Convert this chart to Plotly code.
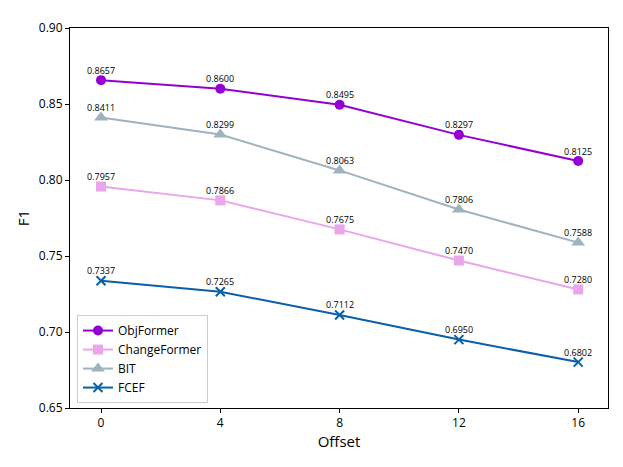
import plotly.graph_objects as go

offsets = [0, 4, 8, 12, 16]
series_names = ["ObjFormer", "ChangeFormer", "BIT", "FCEF"]
objformer = [0.8657, 0.8600, 0.8495, 0.8297, 0.8125]
changeformer = [0.7957, 0.7866, 0.7675, 0.7470, 0.7280]
bit = [0.8411, 0.8299, 0.8063, 0.7806, 0.7588]
fcef = [0.7337, 0.7265, 0.7112, 0.6950, 0.6802]

values = [objformer, changeformer, bit, fcef]
colors = ["#9400D3", "#EBA5EB", "#9DB3BD", "#0B5EA8"]
symbols = ["circle", "square", "triangle-up", "x-thin"]
sizes = [10, 10, 12, 9]

FONT = "Open Sans"
fig = go.Figure()
for name, vals, c, s, sz in zip(series_names, values, colors, symbols, sizes):
    fig.add_trace(go.Scatter(
        x=offsets, y=vals, name=name, mode="lines+markers",
        line=dict(color=c, width=2),
        marker=dict(symbol=s, size=sz, color=c,
                    line=dict(color=c, width=2 if s == "x-thin" else 0)),
    ))
    for xv, yv in zip(offsets, vals):
        fig.add_annotation(x=xv, y=yv, text=f"{yv:.4f}", showarrow=False,
                           yshift=10, font=dict(family=FONT, size=9, color="black"))

fig.update_layout(
    width=623, height=467,
    margin=dict(l=62, r=23, t=11, b=67),
    paper_bgcolor="white", plot_bgcolor="white",
    font=dict(family=FONT, size=12, color="black"),
    showlegend=True,
    legend=dict(x=0.013, y=0.013, xanchor="left", yanchor="bottom",
                bordercolor="#CCCCCC", borderwidth=1, bgcolor="rgba(255,255,255,0.8)",
                font=dict(family=FONT, size=12), tracegroupgap=0, itemwidth=30),
    xaxis=dict(range=[-1.04, 17.0], tickvals=offsets, ticktext=[str(o) for o in offsets],
               showgrid=False, zeroline=False, showline=True, linecolor="black", linewidth=1,
               mirror=True, ticks="outside", ticklen=4, tickcolor="black",
               title=dict(text="Offset", font=dict(family=FONT, size=15), standoff=4),
               tickfont=dict(family=FONT, size=12)),
    yaxis=dict(range=[0.65, 0.90], tickvals=[0.65, 0.70, 0.75, 0.80, 0.85, 0.90],
               ticktext=["0.65", "0.70", "0.75", "0.80", "0.85", "0.90"],
               showgrid=False, zeroline=False, showline=True, linecolor="black", linewidth=1,
               mirror=True, ticks="outside", ticklen=4, tickcolor="black",
               title=dict(text="F1", font=dict(family=FONT, size=15), standoff=5),
               tickfont=dict(family=FONT, size=12)),
)

fig.write_html("out.html")
